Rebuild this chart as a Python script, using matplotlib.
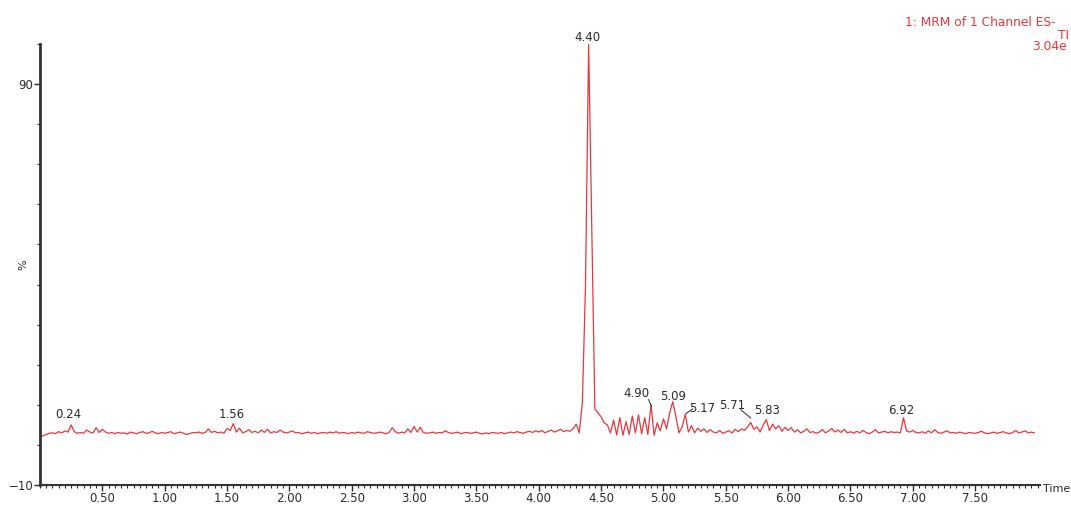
import numpy as np
import matplotlib
matplotlib.use("Agg")
import matplotlib.pyplot as plt
from matplotlib.ticker import MultipleLocator

plt.rcParams['font.family'] = ['DejaVu Sans']

# retention time step (min) and intensity (%), one row per minute
step = 0.025
row0 = [2.0, 2.3, 2.6, 2.9, 3.0, 2.8, 3.3, 3.0, 3.5, 3.2, 5.0, 3.3, 2.9, 3.1, 2.9, 3.7, 3.2, 3.0, 4.3, 3.1,
        3.9, 3.2, 2.9, 3.1, 2.8, 3.1, 2.9, 3.0, 2.7, 3.2, 3.0, 2.8, 3.1, 3.3, 2.9, 3.0, 3.4, 3.0, 2.8, 3.1]
row1 = [2.9, 3.1, 3.3, 2.8, 3.0, 3.2, 2.9, 2.6, 2.8, 3.1, 3.0, 3.2, 2.9, 3.1, 4.0, 3.1, 3.4, 3.0, 3.2, 2.9,
        4.1, 3.6, 5.3, 3.2, 4.2, 3.0, 3.3, 3.8, 3.1, 3.4, 3.0, 3.7, 3.1, 3.9, 3.0, 3.3, 3.1, 3.7, 3.2, 3.0]
row2 = [3.2, 3.5, 3.0, 3.1, 2.8, 3.0, 3.2, 2.9, 3.1, 2.8, 3.0, 3.1, 2.9, 3.2, 3.0, 3.3, 2.9, 3.1, 3.0, 2.8,
        3.1, 2.9, 3.2, 3.0, 2.9, 3.3, 3.1, 2.9, 3.0, 3.2, 3.0, 2.8, 3.1, 4.3, 3.3, 2.9, 3.2, 3.0, 4.0, 3.1]
row3 = [4.6, 3.2, 4.4, 3.1, 2.9, 3.0, 3.2, 2.9, 3.1, 3.0, 3.5, 3.1, 2.9, 3.0, 3.2, 2.8, 3.0, 3.1, 2.9, 3.0,
        3.2, 2.9, 2.7, 3.0, 2.8, 3.1, 3.0, 2.9, 3.1, 2.8, 3.0, 3.2, 3.0, 3.3, 3.1, 2.9, 3.2, 3.4, 3.1, 3.5]
row4 = [3.2, 3.6, 3.0, 3.4, 3.7, 3.2, 3.5, 3.9, 3.3, 3.6, 3.4, 4.0, 5.2, 3.0, 10.7, 40.0, 100.0, 55.0, 9.0, 8.0,
        7.0, 5.5, 5.0, 3.0, 6.2, 2.5, 6.8, 2.4, 5.8, 2.6, 7.2, 3.0, 7.5, 2.8, 6.8, 2.6, 10.0, 2.4, 5.5, 3.5]
row5 = [6.5, 4.0, 8.0, 10.8, 7.0, 3.0, 4.5, 7.6, 3.2, 4.8, 3.0, 4.2, 3.4, 4.0, 3.1, 3.8, 3.2, 3.0, 3.6, 2.9,
        3.2, 3.5, 3.0, 3.9, 3.3, 4.0, 3.6, 4.5, 5.6, 3.9, 4.5, 3.2, 5.0, 6.3, 3.6, 5.2, 4.0, 4.8, 3.4, 4.4]
row6 = [3.6, 4.3, 3.2, 3.8, 3.0, 3.4, 4.0, 3.1, 3.3, 2.9, 3.2, 3.8, 3.0, 3.5, 4.1, 3.2, 3.7, 3.1, 3.9, 3.0,
        3.3, 2.9, 3.4, 3.0, 3.6, 3.1, 2.8, 3.2, 3.8, 3.0, 3.2, 3.4, 3.0, 3.3, 3.1, 3.2, 3.0, 6.8, 3.5, 3.2]
row7 = [3.6, 3.1, 3.0, 3.3, 2.9, 3.5, 3.0, 3.8, 3.1, 2.9, 3.2, 3.5, 3.0, 3.1, 2.9, 3.2, 3.0, 2.8, 3.1, 3.0,
        2.9, 3.1, 3.4, 3.0, 2.8, 3.0, 3.2, 2.9, 3.1, 3.3, 3.0, 2.8, 3.1, 3.6, 3.0, 3.2, 3.5, 3.0, 3.2, 3.0]

intensity = np.array(row0 + row1 + row2 + row3 + row4 + row5 + row6 + row7)
times = np.arange(len(intensity)) * step

# peak labels: text, text position (x, y), optional leader line
peak_labels = ["0.24", "1.56", "4.40", "4.90", "5.09", "5.17", "5.71", "5.83", "6.92"]
label_pos = [(0.23, 7.7), (1.54, 7.7), (4.39, 101.7), (4.78, 12.9), (5.08, 12.0),
             (5.31, 9.0), (5.55, 9.9), (5.83, 8.5), (6.91, 8.7)]
leaders = {"4.90": ((4.88, 11.3), (4.905, 9.6)),
           "5.17": ((5.235, 9.0), (5.18, 7.8)),
           "5.71": ((5.62, 8.8), (5.70, 6.7))}

x_ticks = [0.5, 1.0, 1.5, 2.0, 2.5, 3.0, 3.5, 4.0, 4.5, 5.0, 5.5, 6.0, 6.5, 7.0, 7.5]
y_ticks = [-10, 90]

red = '#e8363d'
grey = '#2b2b2b'

fig = plt.figure(figsize=(10.71, 5.05), dpi=100)
ax = fig.add_axes([40 / 1071, 1 - 485 / 505, 1000 / 1071, 441 / 505])

ax.plot(times, intensity, color=red, lw=0.9)

ax.set_xlim(0, 8.02)
ax.set_ylim(-10, 100)

for s in ['top', 'right']:
    ax.spines[s].set_visible(False)
ax.spines['left'].set_linewidth(2.0)
ax.spines['left'].set_color('#333333')
ax.spines['bottom'].set_linewidth(1.5)
ax.spines['bottom'].set_color('#333333')

ax.set_xticks(x_ticks)
ax.set_xticklabels(["%.2f" % t for t in x_ticks])
ax.xaxis.set_minor_locator(MultipleLocator(0.05))
ax.set_yticks(y_ticks)
ax.yaxis.set_minor_locator(MultipleLocator(10))
ax.tick_params(axis='both', which='major', labelsize=8.5, colors=grey, length=4, width=1, pad=1)
ax.tick_params(axis='both', which='minor', length=2.5, width=0.8, color=grey)

ax.set_ylabel('%', fontsize=8, color=grey)
ax.yaxis.set_label_coords(-0.012, 0.5)
fig.text(1043 / 1071, 1 - 489 / 505, 'Time', fontsize=8, color=grey, ha='left', va='center')

for lab, (tx, ty) in zip(peak_labels, label_pos):
    ax.text(tx, ty, lab, fontsize=8.5, color=grey, ha='center', va='center', clip_on=False)
    if lab in leaders:
        (x0, y0), (x1, y1) = leaders[lab]
        ax.plot([x0, x1], [y0, y1], color=grey, lw=0.7)

# header runs off the right edge in the reference; only the visible part is kept
fig.text(905 / 1071, 1 - 22 / 505, '1: MRM of 1 Channel ES-', fontsize=8.8, color=red, ha='left', va='center')
fig.text(1058 / 1071, 1 - 35 / 505, 'TI', fontsize=8.8, color=red, ha='left', va='center')
fig.text(1032 / 1071, 1 - 47 / 505, '3.04e', fontsize=8.8, color=red, ha='left', va='center')

fig.savefig('out.png', dpi=100)
